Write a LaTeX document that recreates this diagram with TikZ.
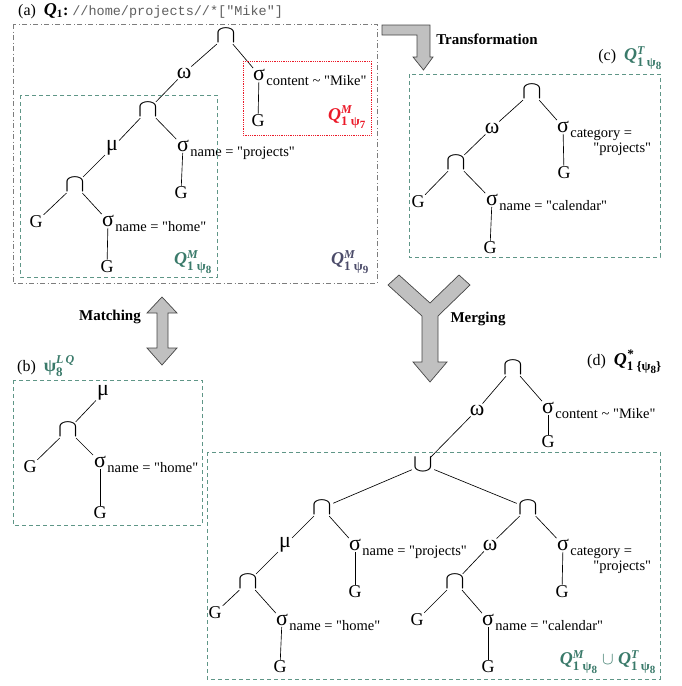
\documentclass[tikz,border=0pt]{standalone}
\usepackage{amsmath}
\usepackage{fontspec}
\setmainfont{Liberation Serif}[Ligatures=TeXOff]
\setmonofont{Liberation Mono}
\usepackage{tikz}
\usetikzlibrary{positioning}

\definecolor{qgreen}{RGB}{58,122,106}
\definecolor{boxgreen}{RGB}{95,150,135}
\definecolor{qred}{RGB}{235,25,40}
\definecolor{qslate}{RGB}{75,75,105}
\definecolor{boxgray}{RGB}{125,125,125}
\definecolor{arrowfill}{RGB}{192,192,192}
\definecolor{arrowdraw}{RGB}{70,70,70}
\definecolor{titlegray}{RGB}{95,95,95}

\newcommand\capop{\scalebox{1.45}[1.2]{$\cap$}}
\newcommand\cupop{\scalebox{1.45}[1.2]{$\cup$}}
\newcommand\subsz[1]{\fontsize{#1}{#1}\selectfont}
\newcommand\qlab[2]{\bfseries\itshape Q$^{\text{\subsz{12}\bfseries\itshape #1}}_{\text{\subsz{13}\bfseries\upshape 1 ψ\raisebox{-3pt}{\subsz{11}#2}}}$}

\begin{document}
\begin{tikzpicture}[x=1pt, y=-1pt,
	op/.style={inner sep=1pt, font=\fontsize{22}{22}\selectfont},
	leaf/.style={inner sep=1pt, font=\fontsize{18}{18}\selectfont},
	subl/.style={inner sep=0pt, anchor=base west, yshift=-5pt, font=\fontsize{14.5}{15}\selectfont},
	subl2/.style={inner sep=0pt, anchor=base west, xshift=23pt, yshift=-15pt, font=\fontsize{14.5}{15}\selectfont},
	panel/.style={inner sep=0pt, font=\fontsize{16}{16}\selectfont},
	qlabel/.style={inner sep=0pt, font=\fontsize{18}{18}\selectfont},
	steplabel/.style={inner sep=0pt, font=\fontsize{15}{15}\selectfont\bfseries},
	gbox/.style={draw=boxgreen, dash pattern=on 4pt off 3pt, line width=0.7pt},
	rbox/.style={qred, line width=0.8pt, dash pattern=on 0.9pt off 0.9pt},
	bigarrow/.style={fill=arrowfill, draw=arrowdraw, line width=0.7pt, line join=miter},
	every edge/.append style={line width=0.65pt}]
	\useasboundingbox (0,0) rectangle (681,686);

	% (a) the query tree
	\node[panel, anchor=west] (ta) at (18,11) {(a)\ \ {\fontsize{18}{18}\selectfont\bfseries\itshape Q}$_{\text{\bfseries 1}}${\bfseries:}\ {\ttfamily\color{titlegray}\fontsize{13.5}{14}\selectfont //home/projects//*["Mike"]}};
	\node[op] (a1) at (226,36) {\capop};
	\node[op] (a2) at (184,73) {ω};
	\node[op] (a3) at (259,75) {σ};
	\node[subl] (a3l) at (a3.base east) {content \textasciitilde{} "Mike"};
	\node[leaf] (a4) at (258,121) {G};
	\node[op] (a5) at (148,110) {\capop};
	\node[op] (a6) at (112,148) {μ};
	\node[op] (a7) at (183,146) {σ};
	\node[subl] (a7l) at (a7.base east) {name = "projects"};
	\node[leaf] (a8) at (181,193) {G};
	\node[op] (a9) at (75,185) {\capop};
	\node[leaf] (a10) at (36,222) {G};
	\node[op] (a11) at (108,221) {σ};
	\node[subl] (a11l) at (a11.base east) {name = "home"};
	\node[leaf] (a12) at (107,267) {G};
	\path (a1) edge (a2);
	\path (a1) edge (a3);
	\path (a3) edge (a4);
	\path (a2) edge (a5);
	\path (a5) edge (a6);
	\path (a5) edge (a7);
	\path (a7) edge (a8);
	\path (a6) edge (a9);
	\path (a9) edge (a10);
	\path (a9) edge (a11);
	\path (a11) edge (a12);
	\draw[rbox] (243,61) rectangle (371,135);
	\draw[gbox] (20,95) rectangle (217,277);
	\draw[draw=boxgray, dash pattern=on 5pt off 2.5pt on 1pt off 2.5pt, line width=0.8pt] (13,24) rectangle (377,283);
	\node[qlabel, text=qred] (q7) at (347,117) {\qlab{M}{7}};
	\node[qlabel, text=qgreen] (q8) at (193,262) {\qlab{M}{8}};
	\node[qlabel, text=qslate] (q9) at (350,262) {\qlab{M}{9}};

	% (c) transformed tree
	\node[panel, anchor=east] (tc) at (662,58) {(c)\ \ \textcolor{qgreen}{\fontsize{18}{18}\selectfont\qlab{T}{8}}};
	\node[op] (c1) at (532,92) {\capop};
	\node[op] (c2) at (492,128) {ω};
	\node[op] (c3) at (563,127) {σ};
	\node[subl] (c3l) at (c3.base east) {category =};
	\node[subl2] (c3m) at (c3l.base west) {"projects"};
	\node[leaf] (c4) at (564,173) {G};
	\node[op] (c5) at (456,163) {\capop};
	\node[leaf] (c6) at (418,202) {G};
	\node[op] (c7) at (492,200) {σ};
	\node[subl] (c7l) at (c7.base east) {name = "calendar"};
	\node[leaf] (c8) at (490,248) {G};
	\path (c1) edge (c2);
	\path (c1) edge (c3);
	\path (c3) edge (c4);
	\path (c2) edge (c5);
	\path (c5) edge (c6);
	\path (c5) edge (c7);
	\path (c7) edge (c8);
	\draw[gbox] (409,74) rectangle (660,257);

	% (b) the rule's left-hand side
	\node[panel, anchor=west] (tb) at (17,366) {(b)\ \ \textcolor{qgreen}{\fontsize{18}{18}\selectfont\bfseries ψ$^{\text{\subsz{12}\bfseries\itshape L\,Q}}_{\text{\subsz{13}\bfseries 8}}$}};
	\node[op] (b1) at (103,393) {μ};
	\node[op] (b2) at (68,430) {\capop};
	\node[leaf] (b3) at (30,467) {G};
	\node[op] (b4) at (100,462) {σ};
	\node[subl] (b4l) at (b4.base east) {name = "home"};
	\node[leaf] (b5) at (100,513) {G};
	\path (b1) edge (b2);
	\path (b2) edge (b3);
	\path (b2) edge (b4);
	\path (b4) edge (b5);
	\draw[gbox] (13,380) rectangle (202,525);

	% (d) merged tree
	\node[panel, anchor=east] (td) at (662,362) {(d)\ \ {\fontsize{18}{18}\selectfont\bfseries\itshape Q$^{\text{\subsz{13}\bfseries *}}_{\text{\subsz{13}\bfseries\upshape 1 \{ψ\raisebox{-3pt}{\subsz{11}8}\}}}$}};
	\node[op] (d1) at (513,368) {\capop};
	\node[op] (d2) at (477,410) {ω};
	\node[op] (d3) at (548,408) {σ};
	\node[subl] (d3l) at (d3.base east) {content \textasciitilde{} "Mike"};
	\node[leaf] (d4) at (548,442) {G};
	\node[op] (d5) at (423,465) {\cupop};
	\node[op] (d6) at (322,508) {\capop};
	\node[op] (d7) at (528,508) {\capop};
	\node[op] (d8) at (285,545) {μ};
	\node[op] (d9) at (355,545) {σ};
	\node[subl] (d9l) at (d9.base east) {name = "projects"};
	\node[leaf] (d10) at (355,592) {G};
	\node[op] (d11) at (248,582) {\capop};
	\node[leaf] (d12) at (215,613) {G};
	\node[op] (d13) at (282,620) {σ};
	\node[subl] (d13l) at (d13.base east) {name = "home"};
	\node[leaf] (d14) at (280,667) {G};
	\node[op] (d15) at (490,545) {ω};
	\node[op] (d16) at (563,545) {σ};
	\node[subl] (d16l) at (d16.base east) {category =};
	\node[subl2] (d16m) at (d16l.base west) {"projects"};
	\node[leaf] (d17) at (562,592) {G};
	\node[op] (d18) at (455,582) {\capop};
	\node[leaf] (d19) at (417,620) {G};
	\node[op] (d20) at (488,620) {σ};
	\node[subl] (d20l) at (d20.base east) {name = "calendar"};
	\node[leaf] (d21) at (488,667) {G};
	\path (d1) edge (d2);
	\path (d1) edge (d3);
	\path (d3) edge (d4);
	\path (d2) edge (d5);
	\path (d5) edge (d6);
	\path (d5) edge (d7);
	\path (d6) edge (d8);
	\path (d6) edge (d9);
	\path (d9) edge (d10);
	\path (d8) edge (d11);
	\path (d11) edge (d12);
	\path (d11) edge (d13);
	\path (d13) edge (d14);
	\path (d7) edge (d15);
	\path (d7) edge (d16);
	\path (d16) edge (d17);
	\path (d15) edge (d18);
	\path (d18) edge (d19);
	\path (d18) edge (d20);
	\path (d20) edge (d21);
	\draw[gbox] (207,452) rectangle (660,679);
	\node[qlabel, text=qgreen, anchor=east] (q88) at (656,662) {\qlab{M}{8} {\upshape\mdseries$\cup$} \qlab{T}{8}};

	% the three big arrows
	\draw[bigarrow] (382,25) -- (430,25) -- (430,57) -- (433,57) -- (423.5,70) -- (413,57) -- (417,57) -- (417,35) -- (382,35) -- cycle;
	\node[steplabel] (tr) at (487,39) {Transformation};
	\draw[bigarrow] (162,297) -- (177,313) -- (168,313) -- (168,348) -- (177,348) -- (162,365) -- (147,348) -- (157,348) -- (157,313) -- (147,313) -- cycle;
	\node[steplabel] (mt) at (110,317) {Matching};
	\draw[bigarrow] (388,285) -- (399,275) -- (430,303) -- (459,275) -- (470,285) -- (438,316) -- (438,362) -- (447,362) -- (430,382) -- (413,362) -- (422,362) -- (422,316) -- cycle;
	\node[steplabel] (mg) at (478,319) {Merging};
\end{tikzpicture}
\end{document}
